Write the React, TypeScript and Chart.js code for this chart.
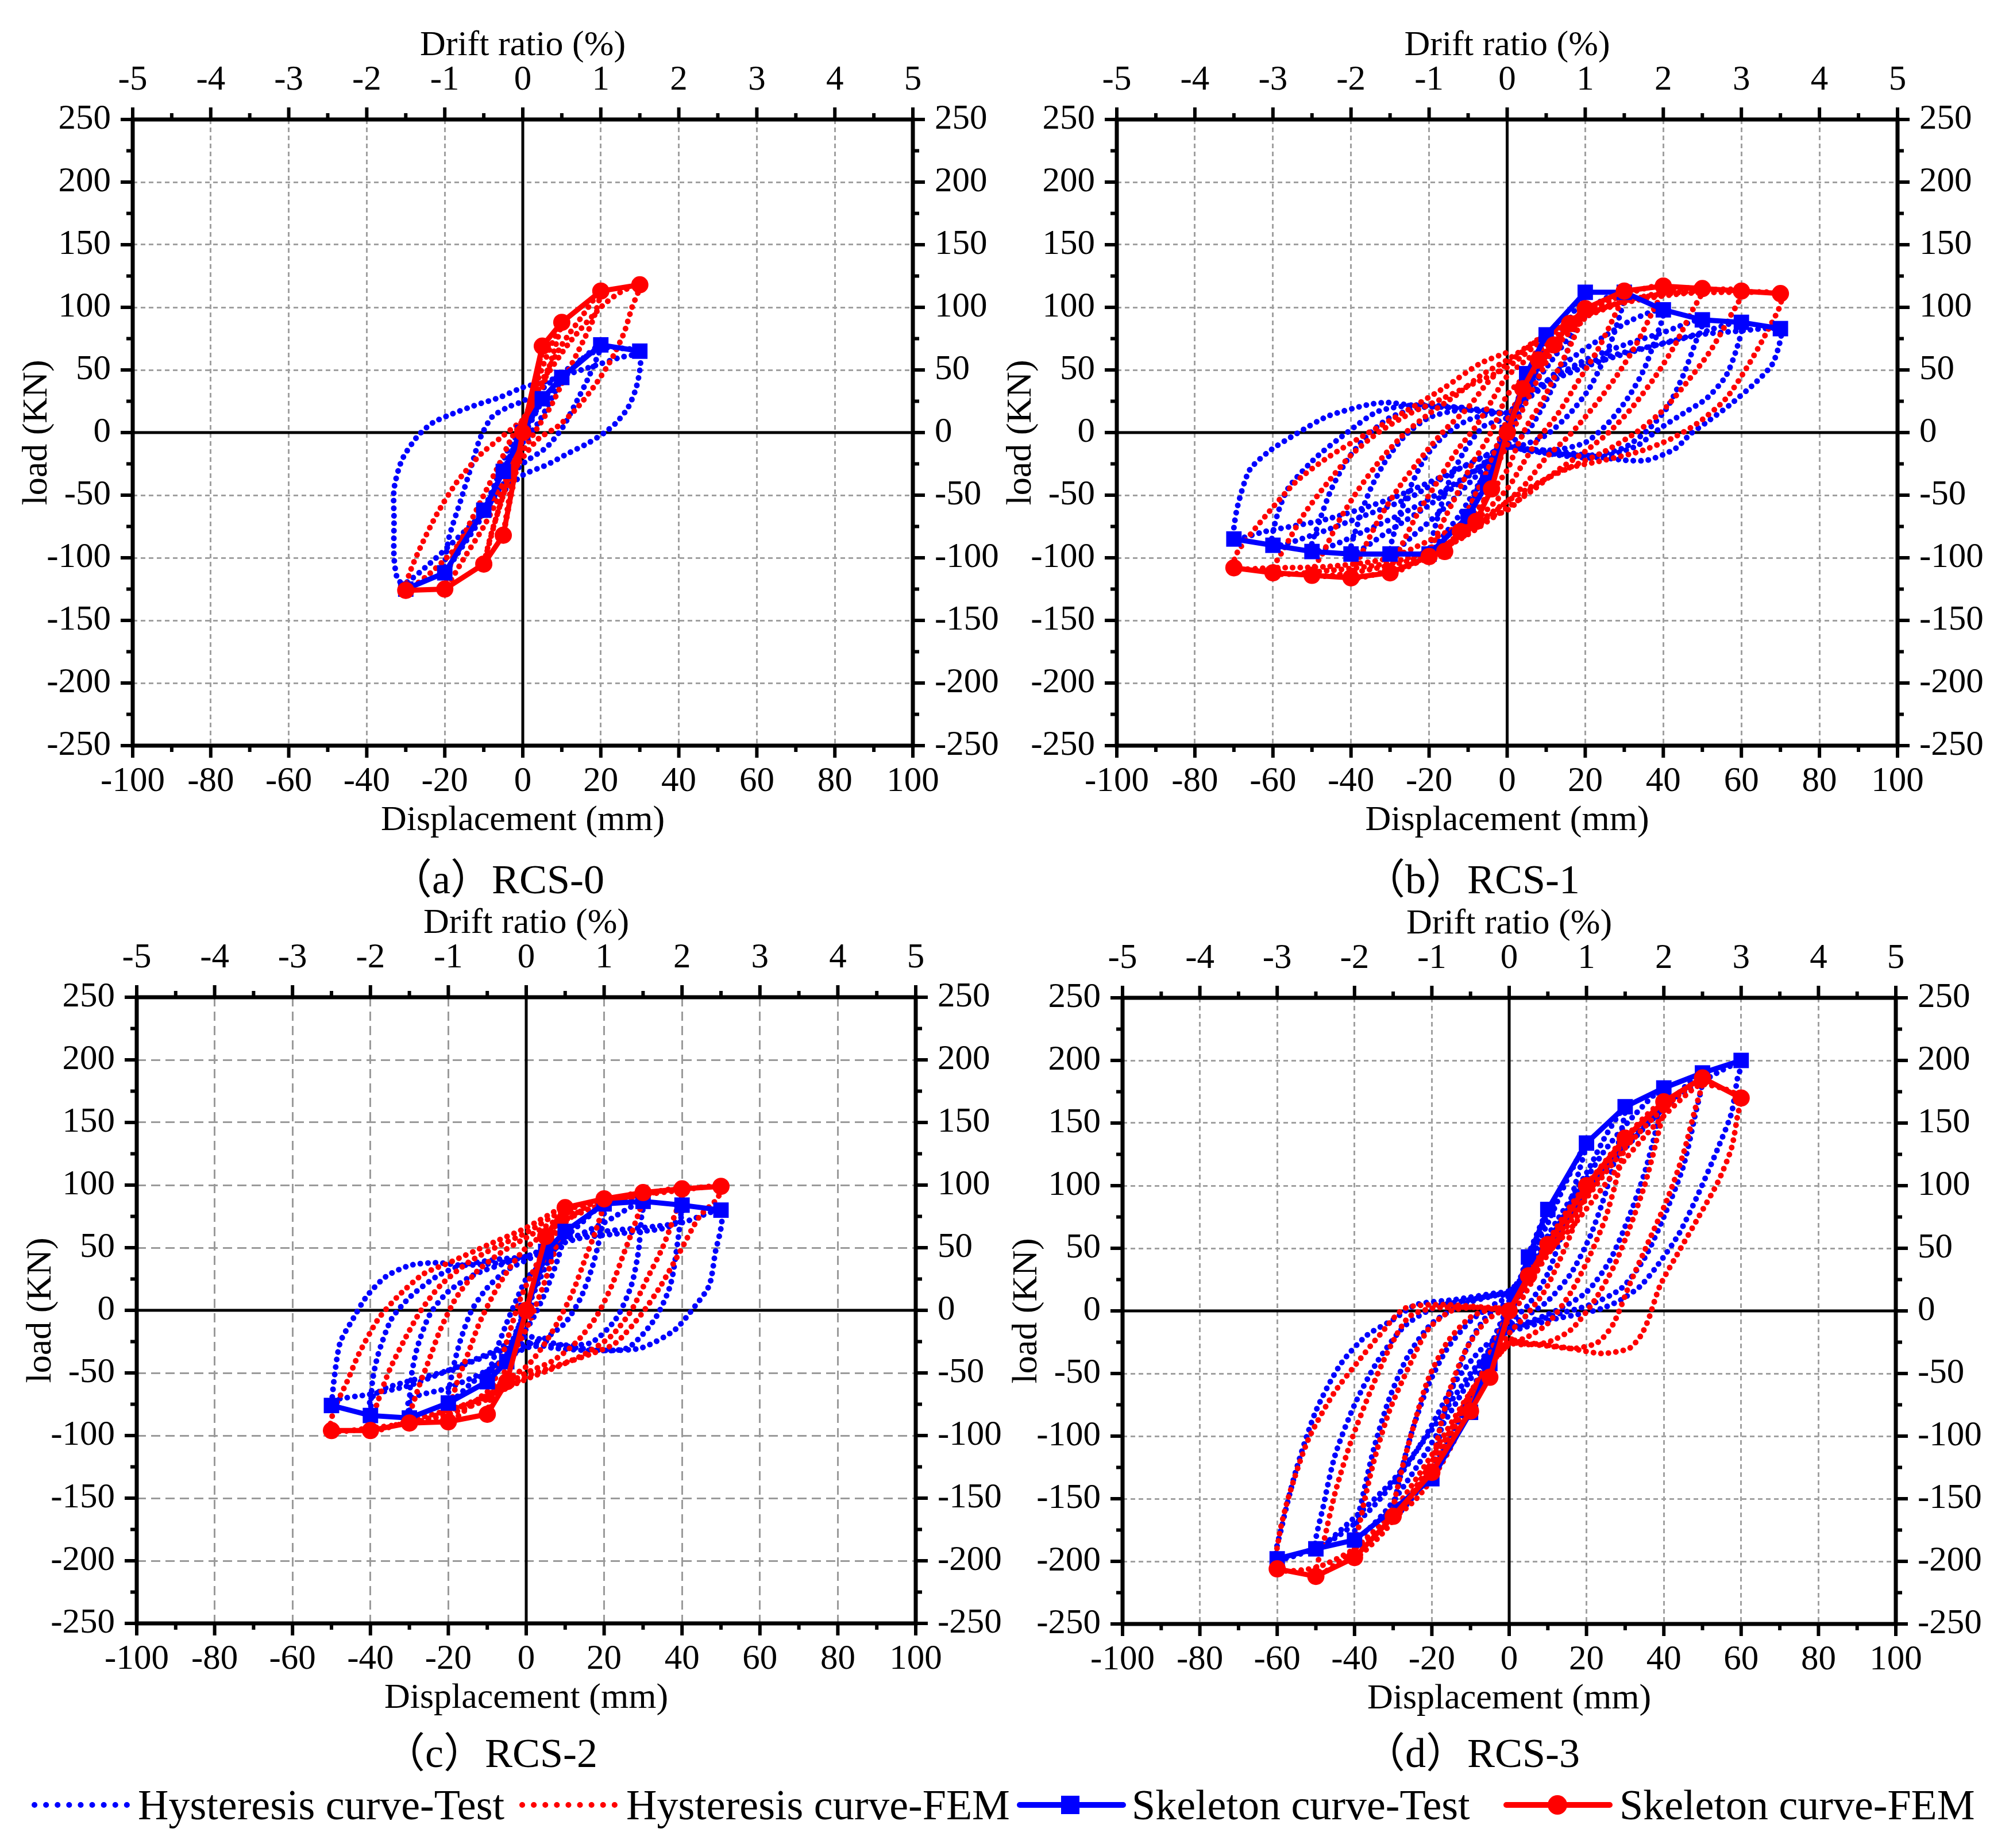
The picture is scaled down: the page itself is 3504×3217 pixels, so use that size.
import { useEffect, useRef } from "react";
import { Chart, registerables } from "chart.js";

Chart.register(...registerables);

type Pt = [number, number];

const FONT = '"Liberation Serif", "Times New Roman", serif';
const CAPTION_FONT = '"Liberation Serif", "Noto Sans CJK SC", serif';
const BLUE = "#0000ff";
const RED = "#ff0000";

// tick labels
const dispTicks = [-100, -80, -60, -40, -20, 0, 20, 40, 60, 80, 100];
const driftTicks = [-5, -4, -3, -2, -1, 0, 1, 2, 3, 4, 5];
const loadTicks = [-250, -200, -150, -100, -50, 0, 50, 100, 150, 200, 250];

// ---------- (a) RCS-0 ----------
const hysTestA: Pt[] = [
  [0, 0], [2, 12], [5, 27], [3, 15], [0, 2], [-2, -10], [-5, -31], [-3, -18], [0, -3], [2, 8],
  [5, 25], [10, 44], [7, 25], [4, 8], [0, -8], [-5, -30], [-10, -62], [-7, -40], [-4, -15], [0, 5], [4, 22],
  [10, 42], [15, 58], [20, 70], [17, 45], [13, 20], [10, 3], [6, -12], [0, -25], [-6, -45], [-12, -75],
  [-17, -98], [-20, -112], [-19, -85], [-16, -55], [-13, -25], [-11, -5], [-8, 12], [-4, 20], [0, 25],
  [5, 35], [12, 52], [18, 64], [22, 68], [26, 67], [30, 65], [30, 50], [29, 35], [27, 20], [24, 8], [21, 0],
  [17, -8], [12, -16], [6, -26], [0, -34], [-6, -50], [-12, -70], [-18, -88], [-24, -105], [-30, -120],
  [-32, -118], [-33, -100], [-33, -70], [-33, -45], [-31, -22], [-27, -3], [-23, 8], [-18, 15], [-12, 22],
  [-6, 28], [0, 36], [5, 40], [10, 45], [15, 50], [20, 55], [25, 60], [30, 63],
];
const hysFemA: Pt[] = [
  [0, 0], [3, 35], [5, 69], [4, 45], [2, 20], [0, 5], [-2, -25], [-5, -82], [-3, -50], [-1, -20], [0, 0],
  [2, 25], [6, 60], [10, 88], [8, 65], [6, 45], [3, 20], [0, 0], [-3, -30], [-7, -70], [-10, -105],
  [-8, -80], [-5, -50], [-2, -20], [0, 0], [4, 35], [10, 70], [15, 92], [20, 113], [18, 90], [15, 70],
  [11, 45], [7, 20], [3, 0], [0, -15], [-5, -45], [-10, -75], [-15, -100], [-20, -125], [-18, -100],
  [-14, -75], [-10, -50], [-6, -25], [-3, -5], [0, 10], [5, 40], [12, 72], [20, 100], [25, 112], [30, 118],
  [28, 100], [26, 80], [23, 60], [19, 40], [14, 20], [9, 5], [4, -5], [0, -20], [-6, -45], [-12, -72],
  [-18, -95], [-24, -113], [-30, -126], [-29, -112], [-26, -90], [-22, -65], [-17, -40], [-11, -18],
  [-6, -5], [-2, 5], [0, 10],
];
const skelTestA: Pt[] = [
  [-30, -125], [-20, -112], [-10, -62], [-5, -31], [0, 0], [5, 27], [10, 44], [20, 70], [30, 65],
];
const skelFemA: Pt[] = [
  [-30, -126], [-20, -125], [-10, -105], [-5, -82], [0, 0], [5, 69], [10, 88], [20, 113], [30, 118],
];

// ---------- (b) RCS-1 ----------
const hysTestB: Pt[] = [
  [0, 0], [3, 25], [5, 47], [3, 25], [0, 5], [-3, -20], [-5, -40], [-3, -20], [0, 0],
  [5, 40], [10, 78], [7, 45], [3, 15], [0, 0], [-5, -35], [-10, -67], [-7, -40], [-3, -15], [0, 5],
  [5, 35], [10, 60], [15, 85], [20, 112], [17, 80], [13, 45], [9, 20], [5, 0], [0, -10], [-6, -35],
  [-12, -65], [-17, -85], [-20, -97], [-18, -70], [-15, -40], [-11, -15], [-6, 5], [0, 12],
  [6, 35], [12, 60], [18, 85], [24, 105], [30, 112], [28, 85], [25, 60], [21, 35], [16, 15], [10, -2],
  [4, -10], [0, -12], [-8, -35], [-16, -60], [-24, -82], [-30, -97], [-28, -70], [-25, -45], [-21, -20],
  [-16, -2], [-10, 10], [-4, 15], [0, 16],
  [8, 35], [16, 58], [24, 75], [32, 90], [40, 98], [38, 75], [35, 50], [31, 28], [26, 8], [20, -8],
  [12, -14], [4, -13], [0, -12], [-10, -35], [-20, -58], [-30, -78], [-40, -97], [-38, -70], [-35, -45],
  [-31, -22], [-26, -2], [-20, 12], [-12, 18], [-4, 17], [0, 16],
  [10, 40], [20, 58], [30, 70], [40, 80], [50, 90], [48, 70], [45, 45], [41, 20], [36, 2], [30, -12],
  [22, -18], [12, -17], [4, -14], [0, -12], [-12, -38], [-24, -60], [-36, -78], [-50, -95], [-48, -70],
  [-45, -45], [-41, -22], [-36, -3], [-30, 12], [-22, 20], [-12, 20], [-4, 17], [0, 16],
  [12, 42], [24, 57], [36, 68], [48, 78], [60, 88], [59, 69], [56, 45], [51, 27], [46, 17], [39, 3],
  [33, -11], [23, -20], [13, -18], [4, -13], [0, -11], [-13, -30], [-25, -52], [-38, -68], [-50, -82],
  [-60, -90], [-59, -67], [-56, -44], [-49, -20], [-41, 0], [-33, 17], [-23, 22], [-12, 20], [-4, 17], [0, 16],
  [10, 41], [20, 55], [30, 64], [40, 71], [49, 78], [59, 81], [70, 83], [70, 74], [68, 55], [64, 41],
  [57, 22], [51, 8], [47, -1], [43, -13], [36, -22], [30, -22], [20, -18], [13, -15], [3, -13], [0, -11],
  [-13, -30], [-30, -53], [-46, -69], [-62, -79], [-70, -85], [-70, -76], [-69, -58], [-66, -30],
  [-61, -15], [-54, -1], [-46, 13], [-36, 22], [-31, 24], [-25, 22], [-15, 20], [-7, 17], [0, 15],
];
const hysFemB: Pt[] = [
  [0, 0], [2, 20], [4, 35], [2, 15], [0, 0], [-2, -20], [-4, -45], [-2, -20], [0, 0],
  [4, 35], [8, 58], [12, 70], [9, 50], [5, 25], [2, 5], [0, -10], [-4, -35], [-8, -71], [-12, -79],
  [-9, -55], [-5, -30], [-2, -5], [0, 10],
  [6, 45], [12, 70], [16, 87], [20, 99], [17, 75], [13, 50], [9, 25], [5, 5], [2, -15], [0, -30],
  [-6, -55], [-12, -79], [-16, -95], [-20, -99], [-17, -75], [-13, -50], [-9, -25], [-5, -5], [-2, 15], [0, 30],
  [8, 55], [16, 80], [24, 102], [30, 113], [27, 90], [23, 65], [18, 40], [13, 15], [8, -5], [4, -25],
  [0, -45], [-8, -70], [-16, -90], [-24, -105], [-30, -112], [-27, -90], [-23, -65], [-18, -40],
  [-13, -15], [-8, 5], [-4, 25], [0, 45],
  [10, 70], [20, 95], [30, 110], [40, 117], [37, 95], [33, 70], [28, 45], [22, 20], [16, -2], [10, -20],
  [5, -40], [0, -55], [-10, -80], [-20, -100], [-30, -110], [-40, -116], [-37, -95], [-33, -70],
  [-28, -45], [-22, -20], [-16, 2], [-10, 20], [-5, 40], [0, 55],
  [10, 78], [25, 100], [40, 112], [50, 115], [47, 95], [43, 70], [38, 45], [32, 20], [26, 0], [20, -15],
  [13, -30], [7, -45], [0, -60], [-12, -85], [-25, -102], [-40, -112], [-50, -114], [-47, -95],
  [-43, -70], [-38, -45], [-32, -20], [-26, 0], [-20, 15], [-13, 30], [-7, 45], [0, 58],
  [12, 82], [30, 105], [45, 112], [60, 113], [57, 92], [52, 65], [46, 40], [40, 18], [33, 0], [25, -15],
  [16, -28], [8, -40], [0, -55], [-15, -88], [-30, -104], [-45, -110], [-60, -112], [-57, -92],
  [-52, -65], [-46, -40], [-40, -18], [-33, 0], [-25, 15], [-16, 28], [-8, 40], [0, 52],
  [12, 80], [28, 102], [45, 111], [60, 112], [70, 111], [70, 102], [67, 83], [62, 55], [56, 27],
  [49, 8], [42, -5], [34, -15], [25, -22], [14, -30], [6, -45], [0, -62], [-13, -76], [-30, -100],
  [-46, -107], [-60, -108], [-70, -108], [-69, -95], [-62, -67], [-54, -39], [-46, -20], [-36, -1],
  [-26, 17], [-16, 36], [-7, 55], [0, 64],
];
const skelTestB: Pt[] = [
  [-70, -85], [-60, -90], [-50, -95], [-40, -97], [-30, -97], [-20, -97], [-10, -67], [-5, -40], [0, 0],
  [5, 47], [10, 78], [20, 112], [30, 112], [40, 98], [50, 90], [60, 88], [70, 83],
];
const skelFemB: Pt[] = [
  [-70, -108], [-60, -112], [-50, -114], [-40, -116], [-30, -112], [-20, -99], [-16, -95], [-12, -79],
  [-8, -71], [-4, -45], [0, 0], [4, 35], [8, 58], [12, 70], [16, 87], [20, 99], [30, 113], [40, 117],
  [50, 115], [60, 113], [70, 111],
];

// ---------- (c) RCS-2 ----------
const hysTestC: Pt[] = [
  [0, 0], [3, 25], [5, 47], [3, 25], [0, 3], [-3, -22], [-5, -41], [-3, -20], [0, 0],
  [5, 35], [10, 63], [8, 40], [5, 15], [2, -5], [0, -15], [-5, -35], [-10, -57], [-8, -35], [-5, -10],
  [-2, 12], [0, 25], [5, 40],
  [10, 58], [15, 72], [20, 85], [19, 60], [17, 35], [14, 10], [10, -10], [5, -22], [0, -28], [-7, -42],
  [-14, -58], [-20, -74], [-19, -50], [-17, -25], [-14, 0], [-10, 18], [-5, 32], [0, 40],
  [10, 55], [20, 70], [30, 87], [29.6, 75], [28.8, 47], [27, 20], [23, -7], [16.5, -26], [6.6, -28],
  [0, -30], [-10, -48], [-20, -62], [-30, -71], [-30, -86], [-29.7, -57], [-28, -30], [-24.7, -3],
  [-20, 15], [-13, 29], [-5, 38], [0, 43],
  [13, 57], [23, 61], [36, 66], [40, 75], [40, 84], [39, 57], [37, 20], [33, -7], [26, -30], [16.5, -32],
  [6.6, -30], [0, -26], [-20, -48], [-36, -62], [-40, -71], [-40, -84], [-39.5, -57], [-38, -35],
  [-34.6, -7], [-29.7, 11], [-23, 27], [-16.5, 36], [-6.6, 41], [0, 43],
  [10, 57], [20, 63], [30, 66], [40, 70], [50, 80], [50, 66], [48.6, 47], [47, 20], [43, 2], [38, -16],
  [29.6, -30], [21, -32], [13, -30], [6.6, -26], [0, -21], [-10, -35], [-20, -48], [-30, -60],
  [-40, -67], [-50, -72], [-50, -76], [-49.4, -57], [-47.8, -26], [-44.5, -7], [-41, 11], [-36, 27],
  [-29.7, 36], [-23, 38], [-16.5, 36], [-6.6, 38], [0, 43],
];
const hysFemC: Pt[] = [
  [0, 0], [3, 35], [5, 59], [3, 30], [0, 0], [-3, -30], [-5, -57], [-3, -30], [0, 0],
  [5, 45], [10, 82], [8, 55], [5, 25], [2, 0], [0, -15], [-5, -45], [-10, -83], [-8, -55], [-5, -25],
  [-2, 5], [0, 20],
  [5, 50], [10, 70], [15, 82], [20, 89], [18, 65], [15, 40], [12, 15], [8, -10], [4, -30], [0, -45],
  [-10, -65], [-20, -89], [-18, -60], [-15, -35], [-12, -10], [-8, 15], [-4, 35], [0, 50],
  [10, 72], [20, 85], [30, 94], [28, 70], [25, 45], [22, 20], [18, -5], [13, -25], [7, -40], [0, -50],
  [-10, -68], [-20, -80], [-30, -90], [-28, -65], [-25, -40], [-22, -15], [-18, 10], [-13, 30],
  [-7, 45], [0, 58],
  [10, 75], [25, 88], [40, 97], [38, 75], [35, 50], [31, 25], [27, 0], [22, -20], [15, -35], [8, -45],
  [0, -55], [-15, -75], [-30, -88], [-40, -96], [-38, -72], [-35, -47], [-31, -22], [-27, 0],
  [-22, 20], [-15, 38], [-8, 50], [0, 62],
  [10, 80], [25, 90], [40, 96], [50, 99], [49, 89], [44.5, 75], [39.5, 47], [34.6, 20], [29.6, -3],
  [23, -26], [16.5, -35], [8, -44], [0, -53], [-10, -71], [-20, -83], [-30, -90], [-40, -94],
  [-50, -96], [-49.4, -80], [-46, -57], [-43, -35], [-38, -7], [-33, 11], [-26.4, 29], [-19.8, 38],
  [-10, 52], [0, 66], [10, 84],
];
const skelTestC: Pt[] = [
  [-50, -76], [-40, -84], [-30, -86], [-20, -74], [-10, -57], [-5, -41], [0, 0], [5, 47], [10, 63],
  [20, 85], [30, 87], [40, 84], [50, 80],
];
const skelFemC: Pt[] = [
  [-50, -96], [-40, -96], [-30, -90], [-20, -89], [-10, -83], [-5, -57], [0, 0], [5, 59], [10, 82],
  [20, 89], [30, 94], [40, 97], [50, 99],
];

// ---------- (d) RCS-3 ----------
const hysTestD: Pt[] = [
  [0, 0], [3, 25], [5, 43], [3, 20], [0, 5], [-3, -22], [-5, -42], [-3, -20], [0, 0],
  [5, 45], [10, 81], [7, 50], [4, 20], [0, 0], [-5, -40], [-10, -81], [-7, -45], [-3, -15], [0, 5],
  [5, 40], [10, 70], [15, 105], [20, 134], [17, 100], [14, 65], [10, 30], [5, 5], [0, -10], [-6, -40],
  [-12, -85], [-16, -110], [-20, -134], [-18, -100], [-15, -65], [-11, -30], [-6, -5], [0, 8],
  [5, 30], [10, 60], [20, 110], [25, 140], [30, 163], [28, 130], [25, 95], [21, 60], [16, 30], [10, 8],
  [4, -5], [0, -12], [-6, -40], [-12, -80], [-18, -115], [-24, -145], [-30, -165], [-28, -130],
  [-25, -95], [-21, -60], [-16, -30], [-10, -8], [-4, 5], [0, 12],
  [8, 45], [16, 85], [24, 125], [32, 155], [40, 178], [38, 145], [35, 110], [31, 75], [26, 40], [20, 15],
  [12, 0], [4, -10], [0, -14], [-8, -45], [-16, -85], [-24, -125], [-32, -160], [-40, -183], [-38, -150],
  [-35, -110], [-31, -70], [-26, -35], [-20, -10], [-12, 5], [-4, 12], [0, 14],
  [10, 50], [20, 95], [30, 130], [40, 162], [50, 190], [48, 155], [45, 115], [40, 75], [35, 42], [29, 18],
  [21, 5], [12, -3], [4, -11], [0, -14], [-10, -50], [-20, -95], [-30, -135], [-40, -165], [-50, -190],
  [-48, -155], [-45, -115], [-40, -75], [-34, -40], [-27, -12], [-19, 3], [-10, 9], [-3, 13], [0, 15],
  [11, 57], [19.4, 94], [27.6, 126], [36, 153], [46, 176], [60, 199], [59, 185], [57.5, 158], [54, 130],
  [49, 94], [44, 62], [39, 39], [34, 20], [29, 9], [24, 2], [19, -2], [11, -7], [3, -14], [0, -16],
  [-7, -30], [-14, -57], [-20.5, -94], [-27, -126], [-37, -162], [-47, -185], [-60, -198], [-58.7, -171],
  [-55, -126], [-50, -80], [-43.7, -43], [-37, -20], [-30, -7], [-24, 5], [-14, 9], [-4, 14], [0, 16], [3, 25],
];
const hysFemD: Pt[] = [
  [0, 0], [3, 18], [5, 28], [3, 15], [0, 0], [-3, -30], [-5, -53], [-3, -28], [0, -3],
  [5, 30], [10, 53], [7, 30], [3, 8], [0, -5], [-5, -45], [-10, -80], [-7, -50], [-3, -20], [0, 0],
  [5, 30], [10, 55], [15, 80], [20, 100], [17, 70], [13, 40], [9, 15], [4, -5], [0, -18], [-6, -50],
  [-12, -90], [-16, -110], [-20, -129], [-18, -95], [-15, -60], [-11, -30], [-6, -8], [-2, 0], [0, 3],
  [6, 32], [12, 62], [20, 100], [25, 120], [30, 138], [28, 108], [25, 75], [21, 45], [16, 15], [10, -10],
  [4, -22], [0, -25], [-6, -50], [-12, -90], [-18, -125], [-24, -150], [-30, -164], [-28, -130],
  [-25, -95], [-21, -55], [-16, -25], [-10, -5], [-4, 2], [0, 3],
  [8, 40], [16, 75], [24, 110], [32, 145], [40, 167], [38, 135], [35, 100], [31, 65], [27, 35], [22, 8],
  [16, -15], [10, -25], [4, -27], [0, -27], [-8, -55], [-16, -100], [-24, -140], [-32, -175],
  [-40, -197], [-38, -160], [-35, -120], [-31, -80], [-26, -45], [-21, -15], [-15, 0], [-8, 3], [0, 3],
  [10, 45], [20, 90], [30, 130], [40, 162], [50, 186], [48, 160], [45, 125], [41, 90], [36, 55], [31, 20],
  [27, -10], [23, -25], [17, -30], [10, -28], [3, -26], [0, -26], [-10, -65], [-20, -115], [-30, -160],
  [-40, -190], [-50, -212], [-48, -185], [-45, -145], [-41, -105], [-36, -65], [-31, -30], [-26, -5],
  [-20, 2], [-10, 3], [0, 3],
  [6, 34], [16, 66], [27.6, 112], [37.6, 148], [49, 180], [55, 178], [60, 170], [59.2, 158], [57.5, 130],
  [54, 103], [49, 75], [44, 48], [39, 20], [36, -7], [34, -20], [31, -30], [24, -34], [16, -30], [9, -27],
  [3, -25], [0, -23], [-10, -70], [-20, -125], [-30, -165], [-40, -190], [-50, -205], [-60, -206],
  [-59.5, -180], [-57, -148], [-52, -103], [-45.4, -66], [-38.7, -39], [-33.7, -20], [-27, 2], [-17, 5],
  [-7, 3], [0, 2],
];
const skelTestD: Pt[] = [
  [-60, -198], [-50, -190], [-40, -183], [-20, -134], [-10, -81], [-5, -42], [0, 0], [5, 43], [10, 81],
  [20, 134], [30, 163], [40, 178], [50, 190], [60, 200],
];
const skelFemD: Pt[] = [
  [-60, -206], [-50, -212], [-40, -197], [-30, -164], [-20, -129], [-10, -80], [-5, -53], [0, 0],
  [5, 28], [10, 53], [20, 100], [30, 138], [40, 167], [50, 186], [60, 170],
];

const legendLabels = [
  "Hysteresis curve-Test",
  "Hysteresis curve-FEM",
  "Skeleton curve-Test",
  "Skeleton curve-FEM",
];

type Box = { l: number; t: number; r: number; b: number };
type GridStyle = { color: string; width: number; dash: number[] };

const LEFT_W = 203;
const RIGHT_W = 200;
const TOP_H = 165;
const BOTTOM_H = 168;

const toXY = (pts: Pt[]) => pts.map(([x, y]) => ({ x, y }));
const mids = (arr: number[]) => arr.slice(0, -1).map((v, i) => (v + arr[i + 1]) / 2);

const framePlugin = {
  id: "frameTicks",
  beforeDatasetsDraw(chart: any) {
    const { ctx, chartArea: a, scales } = chart;
    const x0 = scales.x.getPixelForValue(0);
    const y0 = scales.y.getPixelForValue(0);
    ctx.save();
    ctx.strokeStyle = "#000";
    ctx.lineWidth = 5;
    ctx.beginPath();
    ctx.moveTo(x0, a.top);
    ctx.lineTo(x0, a.bottom);
    ctx.moveTo(a.left, y0);
    ctx.lineTo(a.right, y0);
    ctx.stroke();
    ctx.restore();
  },
  afterDraw(chart: any) {
    const { ctx, chartArea: a, scales } = chart;
    ctx.save();
    ctx.strokeStyle = "#000";
    ctx.lineWidth = 6;
    const seg = (x1: number, y1: number, x2: number, y2: number) => {
      ctx.beginPath();
      ctx.moveTo(x1, y1);
      ctx.lineTo(x2, y2);
      ctx.stroke();
    };
    const MAJ = 21;
    const MIN = 11;
    dispTicks.forEach((v) => seg(scales.x.getPixelForValue(v), a.bottom, scales.x.getPixelForValue(v), a.bottom + MAJ));
    mids(dispTicks).forEach((v) => seg(scales.x.getPixelForValue(v), a.bottom, scales.x.getPixelForValue(v), a.bottom + MIN));
    driftTicks.forEach((v) => seg(scales.x2.getPixelForValue(v), a.top, scales.x2.getPixelForValue(v), a.top - MAJ));
    mids(driftTicks).forEach((v) => seg(scales.x2.getPixelForValue(v), a.top, scales.x2.getPixelForValue(v), a.top - MIN));
    loadTicks.forEach((v) => {
      const py = scales.y.getPixelForValue(v);
      seg(a.left, py, a.left - MAJ, py);
      seg(a.right, py, a.right + MAJ, py);
    });
    mids(loadTicks).forEach((v) => {
      const py = scales.y.getPixelForValue(v);
      seg(a.left, py, a.left - MIN, py);
      seg(a.right, py, a.right + MIN, py);
    });
    ctx.lineWidth = 7;
    ctx.strokeRect(a.left, a.top, a.right - a.left, a.bottom - a.top);
    ctx.restore();
  },
};

type PanelProps = {
  box: Box;
  grid: GridStyle;
  hysTest: Pt[];
  hysFem: Pt[];
  skelTest: Pt[];
  skelFem: Pt[];
};

const Panel = ({ box, grid, hysTest, hysFem, skelTest, skelFem }: PanelProps) => {
  const ref = useRef<HTMLCanvasElement | null>(null);
  const w = box.r + RIGHT_W - (box.l - LEFT_W);
  const h = box.b + BOTTOM_H - (box.t - TOP_H);

  useEffect(() => {
    if (!ref.current) return;
    const tickFont = { family: FONT, size: 61 };
    const titleFont = { family: FONT, size: 62 };
    const gridColor = (c: any) => (c.tick && c.tick.value === 0 ? "rgba(0,0,0,0)" : grid.color);
    const hysStyle = {
      showLine: true,
      borderWidth: 10,
      borderDash: [0.1, 13],
      borderCapStyle: "round",
      tension: 0.25,
      pointRadius: 0,
    };
    const chart = new Chart(ref.current, {
      type: "scatter",
      data: {
        datasets: [
          {
            ...hysStyle,
            label: legendLabels[0],
            data: toXY(hysTest),
            borderColor: BLUE,
            backgroundColor: BLUE,
            order: 4,
          },
          {
            ...hysStyle,
            label: legendLabels[1],
            data: toXY(hysFem),
            borderColor: RED,
            backgroundColor: RED,
            order: 3,
          },
          {
            label: legendLabels[2],
            data: toXY(skelTest),
            showLine: true,
            borderColor: BLUE,
            backgroundColor: BLUE,
            borderWidth: 9,
            pointStyle: "rect",
            pointRadius: 19,
            pointBorderWidth: 0,
            order: 2,
          },
          {
            label: legendLabels[3],
            data: toXY(skelFem),
            showLine: true,
            borderColor: RED,
            backgroundColor: RED,
            borderWidth: 9,
            pointStyle: "circle",
            pointRadius: 15,
            pointBorderWidth: 0,
            order: 1,
          },
        ] as any,
      },
      options: {
        responsive: false,
        maintainAspectRatio: false,
        animation: false,
        events: [],
        layout: { padding: 0 },
        plugins: { legend: { display: false }, tooltip: { enabled: false } },
        scales: {
          x: {
            type: "linear",
            position: "bottom",
            min: -100,
            max: 100,
            afterBuildTicks: (s: any) => {
              s.ticks = dispTicks.map((value) => ({ value }));
            },
            afterFit: (s: any) => {
              s.height = BOTTOM_H;
            },
            ticks: { font: tickFont, color: "#000", padding: 26, maxRotation: 0, autoSkip: false, callback: (v: any) => String(v) },
            grid: { drawTicks: false, color: gridColor, lineWidth: grid.width },
            border: { display: false, dash: grid.dash },
            title: { display: true, text: "Displacement (mm)", font: titleFont, color: "#000", padding: 0 },
          },
          x2: {
            type: "linear",
            position: "top",
            min: -5,
            max: 5,
            afterBuildTicks: (s: any) => {
              s.ticks = driftTicks.map((value) => ({ value }));
            },
            afterFit: (s: any) => {
              s.height = TOP_H;
            },
            ticks: { font: tickFont, color: "#000", padding: 31, maxRotation: 0, autoSkip: false, callback: (v: any) => String(v) },
            grid: { drawTicks: false, drawOnChartArea: false },
            border: { display: false },
            title: { display: true, text: "Drift ratio (%)", font: titleFont, color: "#000", padding: 0 },
          },
          y: {
            type: "linear",
            position: "left",
            min: -250,
            max: 250,
            afterBuildTicks: (s: any) => {
              s.ticks = loadTicks.map((value) => ({ value }));
            },
            afterFit: (s: any) => {
              s.width = LEFT_W;
            },
            ticks: { font: tickFont, color: "#000", padding: 38, autoSkip: false, callback: (v: any) => String(v) },
            grid: { drawTicks: false, color: gridColor, lineWidth: grid.width },
            border: { display: false, dash: grid.dash },
            title: { display: true, text: "load (KN)", font: titleFont, color: "#000", padding: 0 },
          },
          y2: {
            type: "linear",
            position: "right",
            min: -250,
            max: 250,
            afterBuildTicks: (s: any) => {
              s.ticks = loadTicks.map((value) => ({ value }));
            },
            afterFit: (s: any) => {
              s.width = RIGHT_W;
            },
            ticks: { font: tickFont, color: "#000", padding: 38, autoSkip: false, callback: (v: any) => String(v) },
            grid: { drawTicks: false, drawOnChartArea: false },
            border: { display: false },
          },
        },
      } as any,
      plugins: [framePlugin],
    });
    return () => {
      chart.destroy();
    };
  }, []);

  return (
    <canvas
      ref={ref}
      width={w}
      height={h}
      style={{ position: "absolute", left: box.l - LEFT_W, top: box.t - TOP_H, width: w, height: h }}
    />
  );
};

const Caption = ({ text, cx, cy }: { text: string; cx: number; cy: number }) => (
  <div
    style={{
      position: "absolute",
      left: cx - 400,
      top: cy - 36,
      width: 800,
      height: 72,
      lineHeight: "72px",
      textAlign: "center",
      fontFamily: CAPTION_FONT,
      fontSize: 72,
      color: "#000",
      whiteSpace: "nowrap",
    }}
  >
    {text}
  </div>
);

const LEG_Y = 3142;

const LegendText = ({ text, x }: { text: string; x: number }) => (
  <div
    style={{
      position: "absolute",
      left: x,
      top: LEG_Y - 38,
      height: 76,
      lineHeight: "76px",
      fontFamily: FONT,
      fontSize: 74,
      color: "#000",
      whiteSpace: "nowrap",
    }}
  >
    {text}
  </div>
);

const Legend = () => (
  <>
    <svg style={{ position: "absolute", left: 0, top: LEG_Y - 30, width: 3504, height: 60 }} width={3504} height={60}>
      <line x1={60} y1={30} x2={222} y2={30} stroke={BLUE} strokeWidth={10} strokeDasharray="0.1 20" strokeLinecap="round" />
      <line x1={909} y1={30} x2={1071} y2={30} stroke={RED} strokeWidth={10} strokeDasharray="0.1 20" strokeLinecap="round" />
      <line x1={1775} y1={30} x2={1955} y2={30} stroke={BLUE} strokeWidth={10} strokeLinecap="round" />
      <rect x={1863 - 16} y={30 - 16} width={32} height={32} fill={BLUE} />
      <line x1={2622} y1={30} x2={2802} y2={30} stroke={RED} strokeWidth={10} strokeLinecap="round" />
      <circle cx={2711} cy={30} r={17} fill={RED} />
    </svg>
    <LegendText text={legendLabels[0]} x={240} />
    <LegendText text={legendLabels[1]} x={1090} />
    <LegendText text={legendLabels[2]} x={1970} />
    <LegendText text={legendLabels[3]} x={2819} />
  </>
);

const GRID_LIGHT: GridStyle = { color: "#a0a0a0", width: 3, dash: [8, 6] };
const GRID_DARK: GridStyle = { color: "#9a9a9a", width: 3, dash: [16, 9] };

const App = () => (
  <div style={{ position: "absolute", left: 0, top: 0, width: 3504, height: 3217, overflow: "hidden", background: "#fff" }}>
    <Panel box={{ l: 231, t: 208, r: 1589, b: 1298 }} grid={GRID_LIGHT} hysTest={hysTestA} hysFem={hysFemA} skelTest={skelTestA} skelFem={skelFemA} />
    <Panel box={{ l: 1944, t: 208, r: 3303, b: 1298 }} grid={GRID_LIGHT} hysTest={hysTestB} hysFem={hysFemB} skelTest={skelTestB} skelFem={skelFemB} />
    <Panel box={{ l: 238, t: 1736, r: 1594, b: 2826 }} grid={GRID_DARK} hysTest={hysTestC} hysFem={hysFemC} skelTest={skelTestC} skelFem={skelFemC} />
    <Panel box={{ l: 1954, t: 1737, r: 3300, b: 2827 }} grid={GRID_LIGHT} hysTest={hysTestD} hysFem={hysFemD} skelTest={skelTestD} skelFem={skelFemD} />
    <Caption text="（a）RCS-0" cx={866} cy={1531} />
    <Caption text="（b）RCS-1" cx={2562} cy={1531} />
    <Caption text="（c）RCS-2" cx={854} cy={3052} />
    <Caption text="（d）RCS-3" cx={2562} cy={3052} />
    <Legend />
  </div>
);

export default App;
